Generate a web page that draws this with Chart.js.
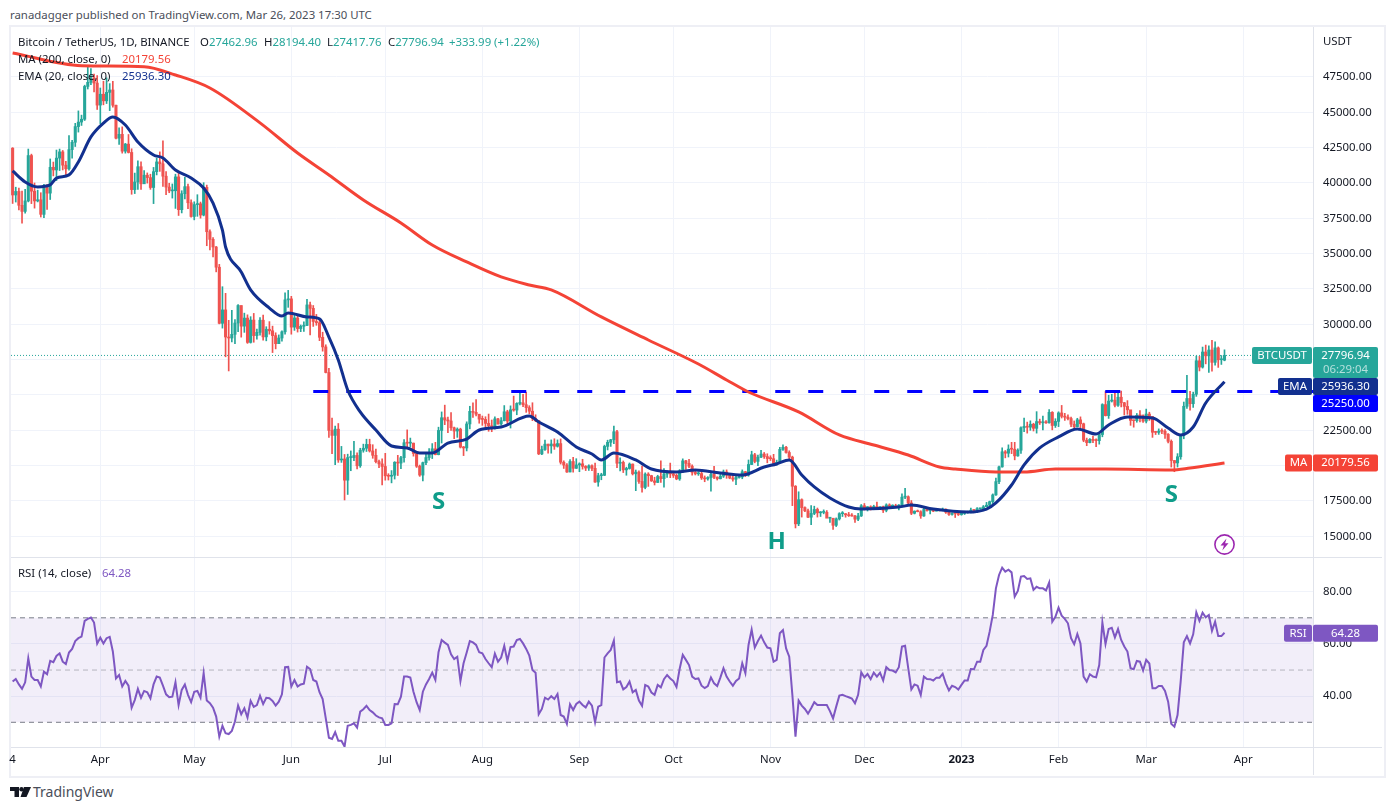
<!DOCTYPE html>
<html>
<head>
<meta charset="utf-8">
<title>BTCUSDT 1D</title>
<script src="https://cdn.jsdelivr.net/npm/chart.js@4/dist/chart.umd.min.js"></script>
<style>
  html, body { margin: 0; padding: 0; background: #fff; }
  body { width: 1393px; height: 810px; position: relative; overflow: hidden; font: 11.4px "Noto Sans", sans-serif; color: #131722; }
  canvas { position: absolute; left: 0; }
  .abs { position: absolute; white-space: nowrap; line-height: 16px; }
  .frame { position: absolute; left: 9px; top: 25px; width: 1373px; height: 749px; border: 2px solid #eeeff5; }
  .rule { position: absolute; background: #e0e3eb; }
  .up { color: #26a69a; }
</style>
</head>
<body>
<div class="frame"></div>
<div class="rule" style="left:11px;top:557px;width:1371px;height:1px"></div>
<div class="rule" style="left:11px;top:747px;width:1371px;height:1px"></div>
<div class="rule" style="left:1313px;top:27px;width:1px;height:748px"></div>
<canvas id="priceChart" width="1382" height="530" style="top:27px"></canvas>
<canvas id="rsiChart" width="1382" height="218" style="top:557px"></canvas>

<div class="abs" style="left:10px;top:7px;color:#4a4e59">ranadagger published on TradingView.com, Mar 26, 2023 17:30 UTC</div>
<div class="abs" style="left:18px;top:34px">Bitcoin / TetherUS, 1D, BINANCE</div>
<div class="abs" style="left:200px;top:34px">O<span class="up">27462.96</span></div>
<div class="abs" style="left:264px;top:34px">H<span class="up">28194.40</span></div>
<div class="abs" style="left:327px;top:34px">L<span class="up">27417.76</span></div>
<div class="abs" style="left:388px;top:34px">C<span class="up">27796.94</span></div>
<div class="abs up" style="left:449px;top:34px">+333.99 (+1.22%)</div>
<div class="abs" style="left:18px;top:51px">MA (200, close, 0)</div>
<div class="abs" style="left:122px;top:51px;color:#f44336">20179.56</div>
<div class="abs" style="left:18px;top:68px">EMA (20, close, 0)</div>
<div class="abs" style="left:122px;top:68px;color:#12308f">25936.30</div>
<div class="abs" style="left:18px;top:565px">RSI (14, close)</div>
<div class="abs" style="left:102px;top:565px;color:#7e57c2">64.28</div>
<div class="abs" style="left:1323px;top:33px">USDT</div>

<svg class="abs" style="left:1213px;top:533px" width="23" height="23" viewBox="0 0 23 23">
  <circle cx="11.5" cy="11.5" r="9.6" fill="#fff" stroke="#9c27b0" stroke-width="1.6"/>
  <path d="M13.5 5.5 7.5 12.5h3.4l-1.6 5 6.2-7.2h-3.4z" fill="#9c27b0"/>
</svg>
<svg class="abs" style="left:10px;top:787px" width="21" height="11" viewBox="0 0 21 11">
  <path d="M0 0h9v10H4.5V4H0z" fill="#131722"/>
  <circle cx="11.5" cy="2.2" r="2.2" fill="#131722"/>
  <path d="M14 0h7l-4.5 10h-6z" fill="#131722"/>
</svg>
<div class="abs" style="left:33px;top:784px;font-size:14px;color:#4a4e59">TradingView</div>

<script>
// Daily BTCUSDT candles, MA, EMA and RSI.
// Days are counted from 1 Apr 2022 (day 0), so the first candle (4 Mar) is -28.

const firstCandleDay = -28;

const candleOpens = [
  42460,39150,39400,38420,37990,38730,41940,39420,38730,38810,37780,39670,39280,41110,40920,41760,42200,41260,41000,42360,42880,43990,44310,44510,46830,47120,47430,47070,
  45510,46280,45810,46410,46580,45500,43170,43440,42250,42750,42160,39530,40070,41150,39940,40550,40380,39680,40800,41490,41360,40480,39710,39440,39450,40430,38110,39240,39740,38600,
  37630,38470,38530,37730,39690,36550,36010,35470,34040,30070,31020,29100,29030,29290,30090,31330,29870,30440,28720,30300,29200,29430,30290,29110,29650,29540,29200,28630,29030,29470,31730,
  31800,29800,30450,29700,29860,29920,31370,31130,30200,30110,29080,28400,26590,22490,22140,22580,20400,20470,18970,20570,20570,20720,19990,21090,21230,21500,21040,20730,20280,20120,
  19940,19280,19250,19320,20240,20180,20560,21620,21590,21590,20860,19960,19330,20210,20570,20840,21190,20780,22490,23390,23230,23160,22680,22450,22580,21310,21250,22950,23840,23770,23640,
  23290,23270,22990,22820,22620,23310,22950,23180,23810,23150,23950,23930,24400,24440,24310,24100,23850,23340,23190,20830,21140,21520,21400,21530,21370,21560,20240,20040,19550,20290,19810,
  20050,20130,19950,19830,19990,19810,18840,19290,19320,21360,21650,21830,22400,20170,20230,19700,19800,20110,19420,19540,18880,18460,19400,19290,18920,18810,19230,19080,19410,19590,
  19420,19310,19060,19630,20340,20160,19960,19530,19420,19440,19130,19060,19160,19380,19180,19070,19260,19550,19330,19120,19040,19160,19200,19570,19330,20080,20770,20300,20600,20820,20640,
  20500,20490,20160,20210,21150,21300,20930,20600,18540,15880,17590,17030,16800,16350,16620,16900,16660,16690,16700,16280,16280,15780,16230,16600,16600,16520,16460,16430,16210,16440,
  17160,16980,17090,16890,17110,16970,17090,16840,17220,17130,17130,17090,17210,17770,17800,17360,16630,16780,16740,16440,16900,16820,16820,16780,16840,16830,16920,16700,16550,16630,16610,
  16540,16620,16670,16680,16850,16830,16950,16960,17090,17200,17450,17930,18870,19910,20980,20880,21170,21160,20690,21090,22680,22780,22720,22930,22640,23120,23030,23080,23030,23770,22840,
  23130,23730,23490,23430,23330,22930,22760,23240,22960,21800,21630,21860,21780,21770,22200,24320,23540,24570,24630,24270,24840,24450,24190,23950,23200,23180,23560,23520,
  23150,23650,23470,22360,22350,22440,22430,22220,21720,20360,20190,20630,22160,24200,24750,24380,25050,27420,26970,28040,27770,28180,27310,28330,27490,27462.96,
];
const candleHighs = [
  42500,39700,39640,39430,39550,42400,42040,40000,39490,39310,39900,39880,41700,41480,42330,42400,42300,41540,43350,43020,44220,45100,44800,46920,48190,48100,47700,47600,
  46720,47200,47440,47030,47200,45510,43900,43970,42800,43430,42420,40700,41560,41500,40870,40710,40620,41100,41760,42200,42980,40800,39980,39930,40620,40800,39450,40400,39930,38800,
  38670,39170,38650,40020,39850,36680,36130,35510,34240,32660,32190,30280,30990,30340,31400,31310,30790,30670,30540,30770,29660,30480,30660,29830,30190,29870,29400,29250,29530,32220,32400,
  31980,30680,30690,29950,30180,31760,31570,31330,30700,30330,29440,28550,26880,23370,22800,22980,21360,20790,20810,21040,21720,20900,21230,21520,21870,21870,21480,21170,20400,20490,
  20870,19430,19650,20280,20730,20660,21840,22530,21950,21600,20860,20040,20260,20880,21200,21560,21650,22720,23800,24280,23430,23760,22730,22670,22650,21360,23100,24200,24440,24670,23500,
  23510,23460,23650,23230,23450,23350,23400,24250,23920,24230,24920,24450,25210,25050,25200,24240,24450,23600,23180,21380,21800,21520,21820,21900,21820,21890,20340,20150,20430,20580,20490,
  20200,20450,20000,20060,20060,20180,19460,19460,21450,21800,21860,22800,22490,20550,20330,19890,20190,20120,19690,19640,19960,19490,19500,19320,19180,19320,20340,19790,19640,20180,
  19490,19400,19720,20480,20370,20440,20060,19620,19560,19530,19270,19220,19510,19950,19210,19420,19690,19700,19350,19350,19250,19260,19700,19600,20400,21020,20870,20750,21090,20930,20840,
  20700,20800,20390,21300,21480,21370,21050,20670,18590,18150,17650,17080,16930,17170,17130,17000,16750,16870,16820,16320,16250,16300,16670,16750,16610,16690,16600,16480,16620,17250,
  17320,17100,17160,17200,17420,17110,17140,17300,17300,17230,17270,17240,18000,18390,17860,17530,16800,16860,16810,17060,16920,16870,16870,16870,16860,17000,16940,16780,16660,16640,16640,
  16630,16770,16780,16990,16880,17040,16980,17180,17400,17490,18000,19120,19970,21260,21070,21470,21650,21650,21190,22750,23370,23080,23170,23000,23820,23290,23500,23180,23960,23820,23320,
  23810,24260,23700,23590,23440,23160,23350,23450,23010,21950,21920,22090,21890,22330,24380,25250,24980,25050,25190,25130,25280,24480,24600,23880,23220,23690,23900,23600,
  24000,23780,23480,22420,22600,22610,22550,22270,21820,20370,20850,22190,24500,26390,25250,25200,27750,27730,28390,28530,28470,28870,28760,28400,27790,28194.4,
];
const candleLows = [
  38550,38650,38100,37160,37860,38660,38540,38220,38660,37590,37550,38120,38830,40500,40170,40880,40920,40470,40900,41750,42580,43600,44070,44420,46650,46950,46450,45200,
  44200,45530,45620,45120,45360,43120,42730,42110,42110,42120,39200,39250,39550,39550,39990,39990,39550,38540,40570,40820,39760,39180,39310,38930,38200,37700,37880,38880,38180,37580,
  37390,37640,37510,37670,35560,35260,34760,33710,30030,29730,27700,26700,28750,28630,29480,29090,29430,28650,28670,28730,28950,29230,28880,28830,29300,28000,28260,28820,28800,29300,31200,
  29300,29570,29450,29480,29490,29900,29240,29850,29930,28840,28100,26560,22000,20850,20070,20230,20230,17570,17960,19640,20350,19770,19880,20950,21000,20960,20520,20200,19850,18630,
  18970,18980,18780,19050,19300,19780,20240,21190,21320,20670,19870,19240,18910,20060,20380,20500,20760,20760,21600,22900,22340,22500,21900,22000,21250,20710,21040,22600,23420,23510,23000,
  22850,22660,22430,22400,22580,22930,22860,23160,22880,22660,23850,23600,24300,24180,23770,23670,23180,23110,20780,20770,21070,20890,20880,21150,21310,20110,19800,19520,19560,19540,19800,
  19570,19750,19650,19660,19640,18810,18540,19000,19290,21110,21360,21560,19860,19620,19510,19320,19750,19340,18230,18740,18130,18360,18530,18880,18630,18800,18820,18470,19160,19150,
  19160,19000,18960,19500,19740,19850,19330,19340,19310,19020,18860,18970,18200,19080,18980,19060,19160,19100,19070,18900,18650,19120,19070,19230,19250,20070,20200,20000,20570,20510,20200,
  20360,20050,20040,20170,21080,20880,20390,17170,15590,15750,16360,16750,16320,15820,16530,16360,16400,16590,16550,15980,15480,15690,16150,16400,16350,16400,16420,15990,16100,16400,
  16860,16790,16860,16880,16880,16900,16680,16730,17080,17090,17070,16870,17080,17660,17270,16530,16580,16730,16270,16400,16780,16590,16740,16790,16790,16810,16620,16470,16490,16330,16470,
  16490,16540,16630,16650,16750,16670,16910,16910,17100,17130,17320,17900,18720,19890,20550,20610,20850,20410,20660,20870,22400,22300,22500,22450,22300,22910,22530,22980,23000,22530,22700,
  22760,23370,23200,23240,22750,22630,22750,22660,21690,21410,21600,21620,21350,21520,22040,23510,23340,24500,24160,24190,24150,23580,23630,22850,22720,23070,23100,23050,
  23020,23200,22000,22200,22210,22270,21930,21600,19900,19570,19900,20450,21900,24040,23930,24120,24900,26700,26900,27200,26600,26680,27110,26950,27160,27417.76,
];
const candleCloses = [
  39150,39400,38420,37990,38730,41940,39420,38730,38810,37780,39670,39280,41110,40920,41760,42200,41260,41000,42360,42880,43990,44310,44510,46830,47120,47430,47070,45510,
  46280,45810,46410,46580,45500,43170,43440,42250,42750,42160,39530,40070,41150,39940,40550,40380,39680,40800,41490,41360,40480,39710,39440,39450,40430,38110,39240,39740,38600,37630,
  38470,38530,37730,39690,36550,36010,35470,34040,30070,31020,29100,29030,29290,30090,31330,29870,30440,28720,30300,29200,29430,30290,29110,29650,29540,29200,28630,29030,29470,31730,31800,
  29800,30450,29700,29860,29920,31370,31130,30200,30110,29080,28400,26590,22490,22140,22580,20400,20470,18970,20570,20570,20720,19990,21090,21230,21500,21040,20730,20280,20120,19940,
  19280,19250,19320,20240,20180,20560,21620,21590,21590,20860,19960,19330,20210,20570,20840,21190,20780,22490,23390,23230,23160,22680,22450,22580,21310,21250,22950,23840,23770,23640,23290,
  23270,22990,22820,22620,23310,22950,23180,23810,23150,23950,23930,24400,24440,24310,24100,23850,23340,23190,20830,21140,21520,21400,21530,21370,21560,20240,20040,19550,20290,19810,20050,
  20130,19950,19830,19990,19810,18840,19290,19320,21360,21650,21830,22400,20170,20230,19700,19800,20110,19420,19540,18880,18460,19400,19290,18920,18810,19230,19080,19410,19590,19420,
  19310,19060,19630,20340,20160,19960,19530,19420,19440,19130,19060,19160,19380,19180,19070,19260,19550,19330,19120,19040,19160,19200,19570,19330,20080,20770,20300,20600,20820,20640,20500,
  20490,20160,20210,21150,21300,20930,20600,18540,15880,17590,17030,16800,16350,16620,16900,16660,16690,16700,16280,16280,15780,16230,16600,16600,16520,16460,16430,16210,16440,17160,
  16980,17090,16890,17110,16970,17090,16840,17220,17130,17130,17090,17210,17770,17800,17360,16630,16780,16740,16440,16900,16820,16820,16780,16840,16830,16920,16700,16550,16630,16610,16540,
  16620,16670,16680,16850,16830,16950,16960,17090,17200,17450,17930,18870,19910,20980,20880,21170,21160,20690,21090,22680,22780,22720,22930,22640,23120,23030,23080,23030,23770,22840,23130,
  23730,23490,23430,23330,22930,22760,23240,22960,21800,21630,21860,21780,21770,22200,24320,23540,24570,24630,24270,24840,24450,24190,23950,23200,23180,23560,23520,23150,
  23650,23470,22360,22350,22440,22430,22220,21720,20360,20190,20630,22160,24200,24750,24380,25050,27420,26970,28040,27770,28180,27310,28330,27490,27490,27796.94,
];

const maDays = [-28,-6,14,24,35,51,63,73,84,96,106,117,128,137,144,160,175,191,200,207,223,236,247,258,268,273,286,295,305,321,342,348,359];
const maValues = [49200,48300,48230,47640,46720,44250,42120,40570,38800,37170,35610,34410,33350,32780,32430,30520,28890,27190,26060,25210,23800,22170,21460,20750,19900,19760,19550,19550,19760,19760,19690,19830,20179.56];

const emaDays = [-28,-24,-20,-16,-14,-10,-7,-3,1,4,8,12,17,20,24,29,33,36,39,40,45,48,54,58,60,66,70,73,76,79,83,88,93,98,102,106,111,117,121,128,137,140,146,152,157,160,164,171,176,184,190,198,205,212,216,220,224,228,233,239,243,255,259,266,277,283,286,291,295,300,306,312,318,322,328,336,341,345,349,353,359];
const emaValues = [40850,40070,39720,39860,40350,40570,41490,43260,44240,44670,44100,42900,41980,41770,40920,40350,39640,38580,36670,35470,33700,32430,31150,30590,30800,30520,30380,29100,27480,25350,23800,22520,21390,21250,20890,20890,21600,21880,22520,22730,23510,23090,22380,21320,20820,20400,20890,20400,19760,19550,19690,19480,19340,19900,20120,20400,19340,18490,17710,17070,16930,17070,17210,16930,16720,16930,17360,18630,20050,21250,22030,22590,22240,22880,23440,23370,22660,22170,22730,24430,25936.3];

const rsiValues = [
  45.6,46.6,44.5,42.8,45.3,54.5,47.5,46.2,46.2,43.7,49.4,48.4,53.5,53.0,55.4,56.4,53.2,52.3,56.7,58.1,61.1,62.2,62.8,68.8,69.6,70.1,68.2,60.1,
  62.4,60.2,62.2,62.7,57.1,46.8,48.1,43.7,45.8,44.0,35.6,38.5,42.8,39.4,42.0,41.5,39.2,44.5,47.5,47.1,44.0,40.7,39.6,39.8,45.3,36.6,42.4,44.5,40.5,37.7,41.7,42.0,
  39.4,48.8,38.3,37.3,35.6,32.2,24.5,28.7,25.8,25.5,26.7,30.3,36.4,33.1,35.4,31.8,38.2,35.9,36.6,40.2,37.0,39.4,39.2,38.2,36.4,37.9,40.7,51.1,51.2,43.7,46.2,
  43.7,44.5,44.8,51.3,50.4,46.2,45.6,41.5,38.9,31.5,24.1,23.6,26.2,22.9,22.9,20.7,28.7,29.0,29.6,28.0,34.1,35.0,36.3,34.7,33.8,32.6,31.9,31.5,29.0,29.0,
  29.6,37.0,36.9,39.8,47.5,47.5,47.1,41.7,37.7,34.7,41.7,44.5,46.6,49.0,46.2,56.8,61.5,60.5,59.6,56.0,54.2,55.1,45.8,52.6,
  56.7,61.1,60.6,59.6,56.8,56.4,54.2,52.6,51.1,56.3,53.2,54.8,59.3,53.5,58.8,59.0,61.5,61.9,60.2,58.1,55.5,50.0,49.0,33.1,35.1,39.4,38.7,40.0,38.9,40.8,32.8,32.2,29.4,
  36.9,34.7,37.0,37.9,36.6,35.7,37.9,36.4,30.0,36.0,36.6,54.8,56.4,57.7,61.3,45.3,45.6,42.6,43.5,45.6,41.5,42.4,38.3,36.3,44.3,43.7,41.4,40.5,44.3,43.4,46.5,48.1,46.8,45.8,43.5,
  50.4,55.8,53.9,51.9,47.5,46.6,46.8,44.0,43.1,43.9,47.2,44.9,43.9,47.1,50.7,47.5,45.6,44.0,45.8,46.8,52.6,48.8,59.6,65.5,58.6,61.1,63.2,60.6,58.6,58.3,53.2,53.9,64.1,65.3,58.3,55.1,40.5,
  24.5,38.3,36.4,35.1,33.3,35.4,37.7,36.6,36.6,36.6,36.6,34.3,31.5,36.0,40.2,40.5,40.0,39.6,39.1,37.3,40.5,49.1,47.2,48.5,46.5,49.0,47.5,49.0,46.0,51.1,50.0,49.8,49.1,51.1,59.0,59.3,50.7,
  42.6,44.5,44.0,40.5,47.5,46.6,46.5,46.0,47.1,47.1,48.6,44.9,42.2,44.0,43.5,42.5,44.3,46.0,46.0,50.4,50.3,53.2,53.2,57.7,59.3,64.7,71.1,81.3,86.4,89.2,87.7,88.4,87.4,78.1,80.3,85.8,86.0,84.9,85.1,80.7,81.9,81.3,81.3,80.5,83.5,
  68.5,70.4,73.9,70.8,69.6,67.9,62.2,59.9,63.8,60.2,47.5,45.6,48.4,47.5,47.2,51.9,68.2,60.0,65.7,66.2,62.5,65.7,61.5,59.0,57.1,50.7,50.3,53.5,53.2,49.8,53.9,52.5,43.0,43.0,43.9,43.9,42.0,37.9,29.4,28.3,32.8,45.6,
  60.6,63.0,60.2,63.7,72.1,68.8,72.0,70.2,71.1,65.0,68.5,63.0,63.0,64.28,
];

const priceTicks = [15000,17500,20000,22500,25000,27500,30000,32500,35000,37500,40000,42500,45000,47500];
const rsiTicks = [40,60,80];
const rsiLevels = [30,50,70];
const monthTickDays = [-28,0,30,61,91,122,153,183,214,244,275,306,334,365];
const monthTickLabels = ['4','Apr','May','Jun','Jul','Aug','Sep','Oct','Nov','Dec','2023','Feb','Mar','Apr'];

const lastClose = 27796.94;
const lastMa = 20179.56;
const lastEma = 25936.30;
const lastRsi = 64.28;
const necklinePrice = 25250;
const necklineStartDay = 68;

const patternLabels = ['S','H','S'];
const patternDays = [108,216,342];
const patternPrices = [17430,14600,17920];

// Axis ranges picked so the plots land on the same pixels as the reference.
const DAY_MIN = -28.52;
const DAY_MAX = 387.26;
const PRICE_MIN = 13535;
const PRICE_MAX = 51036;
const RSI_MIN = 20.54;
const RSI_MAX = 92.9;

const UP = '#26a69a';
const DOWN = '#ef5350';
const MA_RED = '#f44336';
const EMA_NAVY = '#12308f';
const LEVEL_BLUE = '#0000ff';
const RSI_PURPLE = '#7e57c2';
const GRID = '#f0f3fa';
const FONT = '"Noto Sans", sans-serif';
const FONT_SIZE = 11.4;

const candleColors = candleCloses.map((c, i) => (c >= candleOpens[i] ? UP : DOWN));
const toXY = (days, values) => days.map((x, i) => ({ x, y: values[i] }));
const lineStyle = { pointRadius: 0, pointHoverRadius: 0, fill: false };

// Bar charts default their index axis to offset: true, which would pad the range.
const monthAxis = {
  type: 'linear',
  offset: false,
  min: DAY_MIN,
  max: DAY_MAX,
  afterBuildTicks: s => { s.ticks = monthTickDays.map(value => ({ value })); },
  grid: { offset: false, color: c => (c.index === 0 ? 'rgba(0,0,0,0)' : GRID), drawTicks: false },
  border: { display: false },
};

// The value axes sit in a fixed 69px gutter. Tick padding would otherwise
// also eat into the plot height, so the fit padding is dropped here.
const fitValueAxis = s => {
  s.width = 69;
  s.paddingTop = 0;
  s.paddingBottom = 0;
};

// Tags on the right edge: the price axis labels underneath stay covered, as in TradingView.
const tag = (ctx, x, y, w, h, fill, text, sub) => {
  ctx.fillStyle = fill;
  ctx.beginPath();
  ctx.roundRect(x, y, w, h, 2);
  ctx.fill();
  ctx.fillStyle = '#fff';
  ctx.font = `${FONT_SIZE}px ${FONT}`;
  ctx.textAlign = 'center';
  ctx.textBaseline = 'middle';
  ctx.fillText(text, x + w / 2, y + 8.5);
  if (sub) {
    ctx.fillStyle = 'rgba(255,255,255,0.65)';
    ctx.fillText(sub, x + w / 2, y + 23);
  }
};

const priceOverlay = {
  id: 'priceOverlay',
  afterDraw(chart) {
    const { ctx, scales: { x, y } } = chart;
    ctx.save();
    patternLabels.forEach((t, i) => {
      ctx.fillStyle = '#0f9d8a';
      ctx.font = `bold 24px ${FONT}`;
      ctx.textAlign = 'center';
      ctx.textBaseline = 'middle';
      ctx.fillText(t, x.getPixelForValue(patternDays[i]), y.getPixelForValue(patternPrices[i]));
    });
    const closeY = y.getPixelForValue(lastClose) - 8.5;
    tag(ctx, 1252, closeY, 60, 17, UP, 'BTCUSDT');
    tag(ctx, 1313, closeY, 65, 31, UP, lastClose.toFixed(2), '06:29:04');
    // EMA and level tags get pushed down so they stack under the close tag.
    const emaY = closeY + 31;
    tag(ctx, 1278, emaY, 34, 17, EMA_NAVY, 'EMA');
    tag(ctx, 1313, emaY, 65, 17, EMA_NAVY, lastEma.toFixed(2));
    tag(ctx, 1313, emaY + 17, 65, 17, LEVEL_BLUE, necklinePrice.toFixed(2));
    const maY = y.getPixelForValue(lastMa) - 8.5;
    tag(ctx, 1285, maY, 27, 17, MA_RED, 'MA');
    tag(ctx, 1313, maY, 65, 17, MA_RED, lastMa.toFixed(2));
    ctx.restore();
  },
};

const rsiOverlay = {
  id: 'rsiOverlay',
  afterDraw(chart) {
    const { ctx, scales: { y } } = chart;
    ctx.save();
    const tagY = y.getPixelForValue(lastRsi) - 8;
    tag(ctx, 1284, tagY, 28, 17, RSI_PURPLE, 'RSI');
    tag(ctx, 1313, tagY, 65, 17, RSI_PURPLE, lastRsi.toFixed(2));
    ctx.restore();
  },
};

new Chart(document.getElementById('priceChart'), {
  data: {
    datasets: [
      {
        type: 'line', label: 'Last close', order: 8, ...lineStyle,
        data: toXY([DAY_MIN, DAY_MAX], [lastClose, lastClose]),
        borderColor: UP, borderWidth: 1, borderDash: [1, 2],
      },
      {
        type: 'bar', label: 'Wick', order: 7, grouped: false, barThickness: 1, borderWidth: 0,
        data: candleHighs.map((h, i) => ({ x: firstCandleDay + i, y: [candleLows[i], h] })),
        backgroundColor: candleColors,
      },
      {
        type: 'bar', label: 'Body', order: 6, grouped: false, barThickness: 2.4, borderWidth: 0, minBarLength: 1,
        data: candleOpens.map((o, i) => ({ x: firstCandleDay + i, y: [o, candleCloses[i]] })),
        backgroundColor: candleColors,
      },
      {
        type: 'line', label: 'Neckline', order: 4, ...lineStyle,
        data: toXY([necklineStartDay, DAY_MAX], [necklinePrice, necklinePrice]),
        borderColor: LEVEL_BLUE, borderWidth: 3, borderDash: [15, 18],
      },
      {
        type: 'line', label: 'MA 200', order: 3, ...lineStyle,
        data: toXY(maDays, maValues),
        borderColor: MA_RED, borderWidth: 3, cubicInterpolationMode: 'monotone',
      },
      {
        type: 'line', label: 'EMA 20', order: 2, ...lineStyle,
        data: toXY(emaDays, emaValues),
        borderColor: EMA_NAVY, borderWidth: 3, cubicInterpolationMode: 'monotone',
      },
    ],
  },
  options: {
    responsive: false,
    animation: false,
    layout: { padding: { left: 11 } },
    plugins: { legend: { display: false }, tooltip: { enabled: false } },
    scales: {
      x: { ...monthAxis, ticks: { display: false } },
      y: {
        position: 'right',
        offset: false,
        beginAtZero: false,
        min: PRICE_MIN,
        max: PRICE_MAX,
        afterBuildTicks: s => { s.ticks = priceTicks.map(value => ({ value })); },
        afterFit: fitValueAxis,
        grid: { offset: false, color: GRID, drawTicks: false },
        border: { display: false },
        ticks: { padding: 10, color: '#131722', font: { family: FONT, size: FONT_SIZE }, callback: v => v.toFixed(2) },
      },
    },
  },
  plugins: [priceOverlay],
});

new Chart(document.getElementById('rsiChart'), {
  data: {
    datasets: [
      {
        type: 'line', label: 'Upper', order: 4, ...lineStyle,
        data: toXY([DAY_MIN, DAY_MAX], [rsiLevels[2], rsiLevels[2]]),
        borderColor: '#787b86', borderWidth: 1, borderDash: [5, 4],
        fill: { target: { value: rsiLevels[0] } }, backgroundColor: 'rgba(126,87,194,0.1)',
      },
      {
        type: 'line', label: 'Middle', order: 3, ...lineStyle,
        data: toXY([DAY_MIN, DAY_MAX], [rsiLevels[1], rsiLevels[1]]),
        borderColor: 'rgba(120,123,134,0.5)', borderWidth: 1, borderDash: [5, 4],
      },
      {
        type: 'line', label: 'Lower', order: 2, ...lineStyle,
        data: toXY([DAY_MIN, DAY_MAX], [rsiLevels[0], rsiLevels[0]]),
        borderColor: '#787b86', borderWidth: 1, borderDash: [5, 4],
      },
      {
        type: 'line', label: 'RSI', order: 1, ...lineStyle,
        data: rsiValues.map((y, i) => ({ x: firstCandleDay + i, y })),
        borderColor: RSI_PURPLE, borderWidth: 2,
      },
    ],
  },
  options: {
    responsive: false,
    animation: false,
    layout: { padding: { left: 11, top: 1 } },
    plugins: { legend: { display: false }, tooltip: { enabled: false } },
    scales: {
      x: {
        ...monthAxis,
        afterFit: s => { s.height = 28; },
        ticks: {
          autoSkip: false,
          maxRotation: 0,
          padding: 6,
          color: '#131722',
          font: c => ({ family: FONT, size: FONT_SIZE, weight: monthTickLabels[c.index] === '2023' ? 'bold' : 'normal' }),
          callback: (v, i) => monthTickLabels[i],
        },
      },
      y: {
        position: 'right',
        min: RSI_MIN,
        max: RSI_MAX,
        afterBuildTicks: s => { s.ticks = rsiTicks.map(value => ({ value })); },
        afterFit: fitValueAxis,
        grid: { color: GRID, drawTicks: false },
        border: { display: false },
        ticks: { padding: 10, color: '#131722', font: { family: FONT, size: FONT_SIZE }, callback: v => v.toFixed(2) },
      },
    },
  },
  plugins: [rsiOverlay],
});
</script>
</body>
</html>
